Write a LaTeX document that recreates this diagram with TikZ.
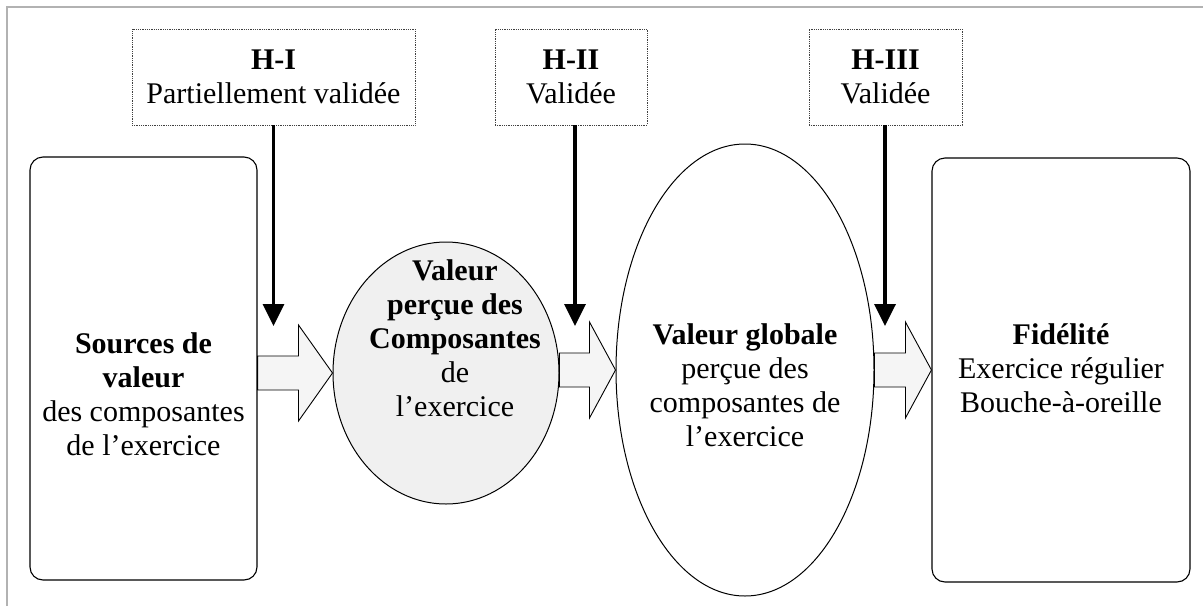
\documentclass[tikz,border=0pt]{standalone}
\usepackage{fontspec}
\setmainfont{Liberation Serif}
\usetikzlibrary{positioning,calc,arrows.meta,shapes.geometric}

\newcommand{\blockarr}[3]{%
	\draw[blk] let \p1=(#1), \p2=(#2) in
		(\x1,\y2+17) -- (\x2-#3,\y2+17) -- (\x2-#3,\y2+48) -- (\p2)
		-- (\x2-#3,\y2-48) -- (\x2-#3,\y2-17) -- (\x1,\y2-17) -- cycle;}

\begin{document}
\begin{tikzpicture}[x=1pt,y=-1pt,
	every node/.style={font=\fontsize{30}{34}\selectfont},
	hyp/.style={draw=black!75,densely dotted,line width=0.8pt,inner sep=0pt,minimum height=96pt,align=center},
	bigbox/.style={draw,line width=1.1pt,rounded corners=13pt,inner sep=0pt},
	oval/.style={ellipse,draw,line width=1pt,inner sep=0pt},
	txt/.style={align=center,inner sep=0pt},
	down/.style={line width=3.5pt,-{Triangle[length=22pt,width=21pt]}},
	blk/.style={draw,line width=0.9pt,fill=black!4,line join=miter}]
	\useasboundingbox (0,0) rectangle (1203,606);
	\draw[black!30,line width=1.5pt] (7,606) -- (7,7) -- (1203,7);

	\node[hyp,minimum width=283pt] (h1) at (273.5,77) {\textbf{H-I}\\Partiellement validée};
	\node[hyp,minimum width=152pt] (h2) at (571,77) {\textbf{H-II}\\Validée};
	\node[hyp,minimum width=153pt] (h3) at (885.5,77) {\textbf{H-III}\\Validée};

	\node[bigbox,minimum width=227pt,minimum height=423pt] (src) at (143.5,368.5) {};
	\node[oval,fill=black!6,minimum width=226pt,minimum height=262pt] (comp) at (446,373) {};
	\node[oval,minimum width=258pt,minimum height=452pt] (glob) at (745,370) {};
	\node[bigbox,minimum width=258pt,minimum height=424pt] (fid) at (1061,370) {};

	\node[txt] (srcT) at (143.5,394) {\textbf{Sources de}\\\textbf{valeur}\\des composantes\\de l’exercice};
	\node[txt] (compT) at (455,338) {\textbf{Valeur}\\\textbf{perçue des}\\\textbf{Composantes}\\de\\l’exercice};
	\node[txt] (globT) at (745,385) {\textbf{Valeur globale}\\perçue des\\composantes de\\l’exercice};
	\node[txt] (fidT) at (1061,368) {\textbf{Fidélité}\\Exercice régulier\\Bouche-à-oreille};

	\blockarr{src.east}{comp.west}{34}
	\blockarr{comp.east}{glob.west}{26}
	\blockarr{glob.east}{fid.west}{26}

	\coordinate (e1) at (273.5,326);
	\coordinate (e2) at (575,326);
	\coordinate (e3) at (885,326);
	\draw[down] (h1.south -| e1) -- (e1);
	\draw[down] (h2.south -| e2) -- (e2);
	\draw[down] (h3.south -| e3) -- (e3);
\end{tikzpicture}
\end{document}
